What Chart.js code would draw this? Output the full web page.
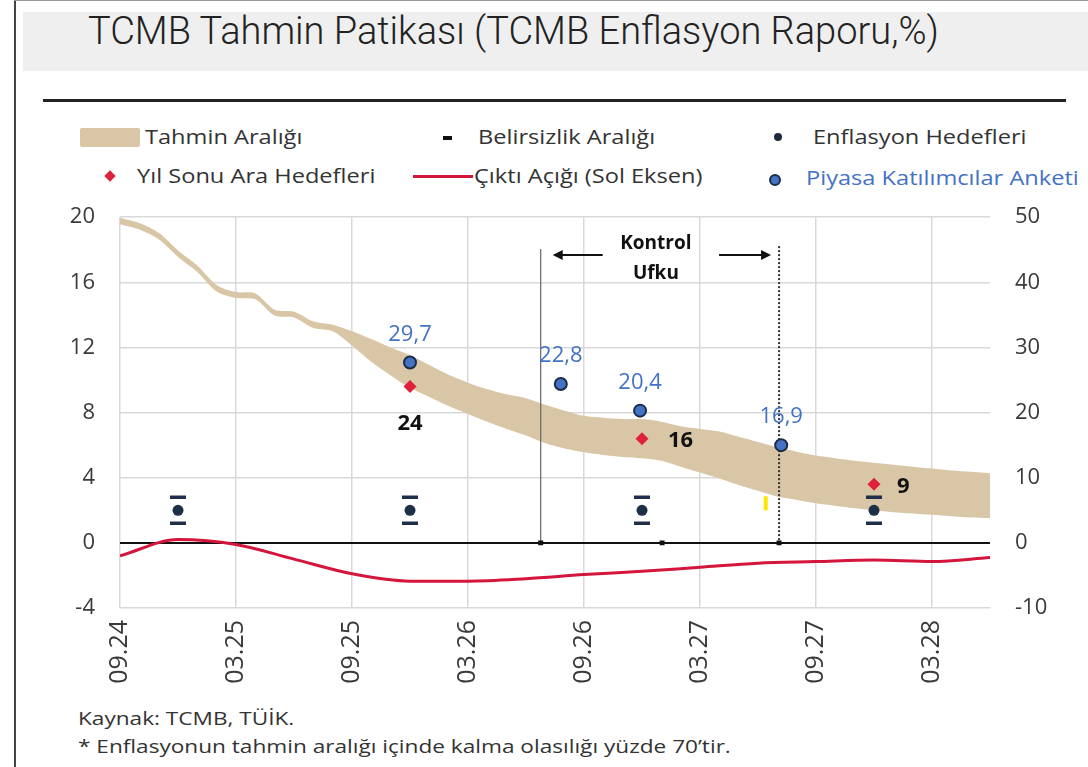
<!DOCTYPE html>
<html lang="tr">
<head>
<meta charset="utf-8">
<title>TCMB Tahmin Patikası</title>
<script src="https://cdn.jsdelivr.net/npm/chart.js@4.4.1/dist/chart.umd.min.js"></script>
<style>
  html, body { margin: 0; padding: 0; background: #fff; }
  body { width: 1088px; height: 767px; position: relative; overflow: hidden; font-family: "Open Sans", sans-serif; color: #333; }
  .frame-left { position: absolute; left: 14px; top: 0; width: 2px; height: 767px; background: #444; }
  .frame-top { position: absolute; left: 14px; top: 0; width: 1074px; height: 1px; background: #999; }
  .title-box { position: absolute; left: 23px; top: 12px; width: 1065px; height: 59px; background: #efefef; }
  .title { position: absolute; left: 88px; top: 12px; font-family: Roboto, sans-serif; font-weight: 300; font-size: 38px; line-height: 38px; color: #222; white-space: nowrap; }
  .rule { position: absolute; left: 43px; top: 99px; width: 1023px; height: 3px; background: #222; }
  .lg { position: absolute; font-size: 20px; line-height: 24px; color: #333; white-space: nowrap; transform: scaleX(1.18); transform-origin: left center; }
  .sw { position: absolute; }
  #wrap { position: absolute; left: 0; top: 179px; width: 1088px; height: 521px; }
  .foot { position: absolute; left: 78px; font-size: 19px; line-height: 24px; color: #333; white-space: nowrap; transform: scaleX(1.19); transform-origin: left center; }
</style>
</head>
<body>
<div class="frame-left"></div>
<div class="frame-top"></div>
<div class="title-box"></div>
<div class="title">TCMB Tahmin Patikası (TCMB Enflasyon Raporu,%)</div>
<div class="rule"></div>

<!-- legend -->
<div class="sw" style="left:80px;top:128px;width:60px;height:19px;background:#d8c6a6;border-radius:2px"></div>
<div class="lg" style="left:145px;top:125px">Tahmin Aralığı</div>
<div class="sw" style="left:443px;top:136px;width:9px;height:4px;background:#111"></div>
<div class="lg" style="left:478px;top:125px">Belirsizlik Aralığı</div>
<div class="sw" style="left:774px;top:133px;width:8px;height:8px;border-radius:50%;background:#1c2a3c"></div>
<div class="lg" style="left:813px;top:125px">Enflasyon Hedefleri</div>

<div class="sw" style="left:106px;top:172px;width:8px;height:8px;background:#e0213d;transform:rotate(45deg)"></div>
<div class="lg" style="left:137px;top:164px">Yıl Sonu Ara Hedefleri</div>
<div class="sw" style="left:413px;top:175px;width:60px;height:3px;background:#d4163d"></div>
<div class="lg" style="left:474px;top:164px">Çıktı Açığı (Sol Eksen)</div>
<div class="sw" style="left:769px;top:174px;width:12px;height:12px;box-sizing:border-box;border-radius:50%;background:#4472c4;border:2px solid #1b2c4a"></div>
<div class="lg" style="left:806px;top:166px;color:#4472c4">Piyasa Katılımcılar Anketi</div>

<div id="wrap"><canvas id="chart" width="1088" height="521"></canvas></div>

<div class="foot" style="top:706px">Kaynak: TCMB, TÜİK.</div>
<div class="foot" style="top:734px">* Enflasyonun tahmin aralığı içinde kalma olasılığı yüzde 70’tir.</div>

<script>
// x axis: months counted from 09.24
const tickLabels = ["09.24", "03.25", "09.25", "03.26", "09.26", "03.27", "09.27", "03.28"];

// forecast band (right axis), one value per month 09.24 .. 06.28
const bandUpper = [49.9, 49.1, 47.6, 44.9, 42.6, 39.6, 38.5, 38.3, 35.8, 35.5, 34.0, 33.5,
  32.5, 31.3, 30.0, 28.8, 27.3, 25.8, 24.6, 23.6, 22.8, 22.2, 21.2, 20.3, 19.5, 19.2, 19.0,
  19.0, 18.6, 17.9, 17.5, 17.1, 16.3, 15.5, 14.7, 14.0, 13.4, 13.0, 12.6, 12.3, 12.0, 11.7,
  11.4, 11.1, 10.9, 10.7];
const bandLower = [48.9, 48.1, 46.6, 43.9, 41.6, 38.6, 37.6, 37.4, 34.9, 34.6, 33.0, 32.5,
  30.3, 27.8, 25.7, 23.8, 22.4, 21.0, 19.8, 18.6, 17.5, 16.5, 15.3, 14.5, 13.9, 13.5, 13.2,
  13.0, 12.6, 11.7, 10.8, 9.9, 8.9, 8.0, 7.1, 6.6, 6.1, 5.7, 5.3, 5.0, 4.7, 4.5, 4.3, 4.1,
  3.9, 3.8];

// output gap (left axis), quarterly
const gapMonths = [0, 3, 6, 9, 12, 15, 18, 21, 24, 27, 30, 33, 36, 39, 42, 45];
const gapValues = [-0.8, 0.2, -0.1, -1.0, -1.9, -2.35, -2.35, -2.2, -1.95, -1.75, -1.5, -1.25, -1.15, -1.05, -1.15, -0.9];

// inflation targets and uncertainty range (right axis)
const targetMonths = [3, 15, 27, 39];
const targetValues = [5, 5, 5, 5];
const targetHigh = [7, 7, 7, 7];
const targetLow = [3, 3, 3, 3];

// year-end interim targets (right axis)
const interimMonths = [15, 27, 39];
const interimValues = [24, 16, 9];

// market participants survey (right axis)
const surveyMonths = [15, 22.8, 26.9, 34.2];
const surveyValues = [27.7, 24.4, 20.3, 15.0];
const surveyLabels = ["29,7", "22,8", "20,4", "16,9"];

// control horizon and small markers on the zero line
const controlHorizon = [21.76, 34.09];
const controlTop = 45.1;
const zeroMarks = [21.76, 28.04, 34.09];
const yellowMark = [{ x: 33.4, y: 6.1 }];

const pts = (xs, ys) => xs.map((x, i) => ({ x: x, y: ys[i] }));
const navy = "#1e3047";

const overlay = {
  id: "overlay",
  afterDatasetDraw(chart, args) {
    if (chart.data.datasets[args.index].label !== "Tahmin Aralığı") return;
    const c = chart.ctx, x = chart.scales.x, yl = chart.scales.y, yr = chart.scales.y2;
    const x1 = x.getPixelForValue(controlHorizon[0]);
    const x2 = x.getPixelForValue(controlHorizon[1]);
    const top = yr.getPixelForValue(controlTop);
    const bot = yl.getPixelForValue(0);
    c.save();
    c.strokeStyle = "#666";
    c.lineWidth = 1.2;
    c.beginPath(); c.moveTo(x1, top); c.lineTo(x1, bot); c.stroke();
    c.strokeStyle = "#333";
    c.lineWidth = 2;
    c.setLineDash([2, 2]);
    c.beginPath(); c.moveTo(x2, top - 3); c.lineTo(x2, bot); c.stroke();
    c.setLineDash([]);
    // arrows
    const ay = top + 6;
    c.strokeStyle = "#111"; c.fillStyle = "#111"; c.lineWidth = 2;
    c.beginPath(); c.moveTo(x1 + 18, ay); c.lineTo(x1 + 62, ay); c.stroke();
    c.beginPath(); c.moveTo(x1 + 12, ay); c.lineTo(x1 + 22, ay - 5); c.lineTo(x1 + 22, ay + 5); c.closePath(); c.fill();
    c.beginPath(); c.moveTo(x2 - 60, ay); c.lineTo(x2 - 14, ay); c.stroke();
    c.beginPath(); c.moveTo(x2 - 8, ay); c.lineTo(x2 - 18, ay - 5); c.lineTo(x2 - 18, ay + 5); c.closePath(); c.fill();
    c.font = "bold 19px 'Open Sans'";
    c.textAlign = "center"; c.textBaseline = "middle";
    const mid = (x1 + x2) / 2 - 4;
    c.fillText("Kontrol", mid, top - 6);
    c.fillText("Ufku", mid, top + 24);
    c.restore();
  },
  afterDatasetsDraw(chart) {
    const c = chart.ctx, x = chart.scales.x, yr = chart.scales.y2;
    c.save();
    c.textBaseline = "middle";
    c.fillStyle = "#4472c4";
    c.font = "22px 'Open Sans'";
    c.textAlign = "center";
    surveyMonths.forEach((m, i) => {
      c.fillText(surveyLabels[i], x.getPixelForValue(m), yr.getPixelForValue(surveyValues[i]) - 28);
    });
    c.fillStyle = "#111";
    c.font = "bold 22px 'Open Sans'";
    interimMonths.forEach((m, i) => {
      const px = x.getPixelForValue(m), py = yr.getPixelForValue(interimValues[i]);
      if (i === 0) { c.textAlign = "center"; c.fillText(String(interimValues[i]), px, py + 37); }
      else { c.textAlign = "left"; c.fillText(String(interimValues[i]), px + (i === 1 ? 26 : 23), py + 2); }
    });
    c.restore();
  }
};

const yFont = { family: "Open Sans", size: 22 };
const xFont = { family: "Open Sans", size: 25 };

new Chart(document.getElementById("chart"), {
  type: "scatter",
  data: {
    datasets: [
      { label: "Piyasa Katılımcılar Anketi", data: pts(surveyMonths, surveyValues), yAxisID: "y2", order: 0,
        pointStyle: "circle", pointRadius: 6, backgroundColor: "#4472c4", borderColor: "#1b2c4a", borderWidth: 2 },
      { label: "Yıl Sonu Ara Hedefleri", data: pts(interimMonths, interimValues), yAxisID: "y2", order: 1,
        pointStyle: "rectRot", pointRadius: 6.5, backgroundColor: "#e0213d", borderWidth: 0 },
      { label: "Enflasyon Hedefleri", data: pts(targetMonths, targetValues), yAxisID: "y2", order: 2,
        pointStyle: "circle", pointRadius: 5.5, backgroundColor: navy, borderWidth: 0 },
      { label: "Belirsizlik Aralığı", data: pts(targetMonths, targetHigh).concat(pts(targetMonths, targetLow)), yAxisID: "y2", order: 3,
        pointStyle: "line", pointRadius: 8, borderColor: navy, borderWidth: 3.5 },
      { label: "yellow", data: yellowMark, yAxisID: "y2", order: 4,
        pointStyle: "line", rotation: 90, pointRadius: 7, borderColor: "#ffe600", borderWidth: 4 },
      { label: "zero marks", data: zeroMarks.map(m => ({ x: m, y: 0 })), yAxisID: "y", order: 5,
        pointStyle: "rect", pointRadius: 3.5, backgroundColor: "#111", borderWidth: 0 },
      { label: "Çıktı Açığı (Sol Eksen)", data: pts(gapMonths, gapValues), yAxisID: "y", order: 6,
        showLine: true, borderColor: "#d4163d", borderWidth: 3, pointRadius: 0, cubicInterpolationMode: "monotone" },
      { label: "bandLower", data: bandLower.map((v, i) => ({ x: i, y: v })), yAxisID: "y2", order: 9,
        showLine: true, borderWidth: 0, borderColor: "rgba(0,0,0,0)", pointRadius: 0, tension: 0.3 },
      { label: "Tahmin Aralığı", data: bandUpper.map((v, i) => ({ x: i, y: v })), yAxisID: "y2", order: 8,
        showLine: true, borderWidth: 0, borderColor: "rgba(0,0,0,0)", pointRadius: 0, tension: 0.3,
        fill: "-1", backgroundColor: "#d8c6a6" }
    ]
  },
  options: {
    responsive: false,
    animation: false,
    events: [],
    devicePixelRatio: 1,
    layout: { padding: { top: 14, left: 0, right: 0, bottom: 0 } },
    plugins: { legend: { display: false }, tooltip: { enabled: false } },
    scales: {
      x: {
        type: "linear", min: 0, max: 45,
        border: { display: false },
        grid: { color: "#d9d9d9", lineWidth: 1.5, drawTicks: false },
        ticks: { stepSize: 6, includeBounds: false, autoSkip: false, minRotation: 90, maxRotation: 90,
          padding: 12, color: "#3a3a3a", font: xFont,
          callback: v => tickLabels[v / 6] },
        afterFit: s => { s.height = 92; }
      },
      y: {
        position: "left", min: -4, max: 20,
        border: { display: false },
        grid: { drawTicks: false,
          color: ctx => (ctx.tick && ctx.tick.value === 0) ? "#111" : "#d9d9d9",
          lineWidth: ctx => (ctx.tick && ctx.tick.value === 0) ? 2 : 1.5 },
        ticks: { stepSize: 4, padding: 25, color: "#3a3a3a", font: yFont },
        afterFit: s => { s.width = 120; }
      },
      y2: {
        position: "right", min: -10, max: 50,
        border: { display: false },
        grid: { display: false, drawTicks: false },
        ticks: { stepSize: 10, padding: 25, color: "#3a3a3a", font: yFont },
        afterFit: s => { s.width = 98; }
      }
    }
  },
  plugins: [overlay]
});
</script>
</body>
</html>
